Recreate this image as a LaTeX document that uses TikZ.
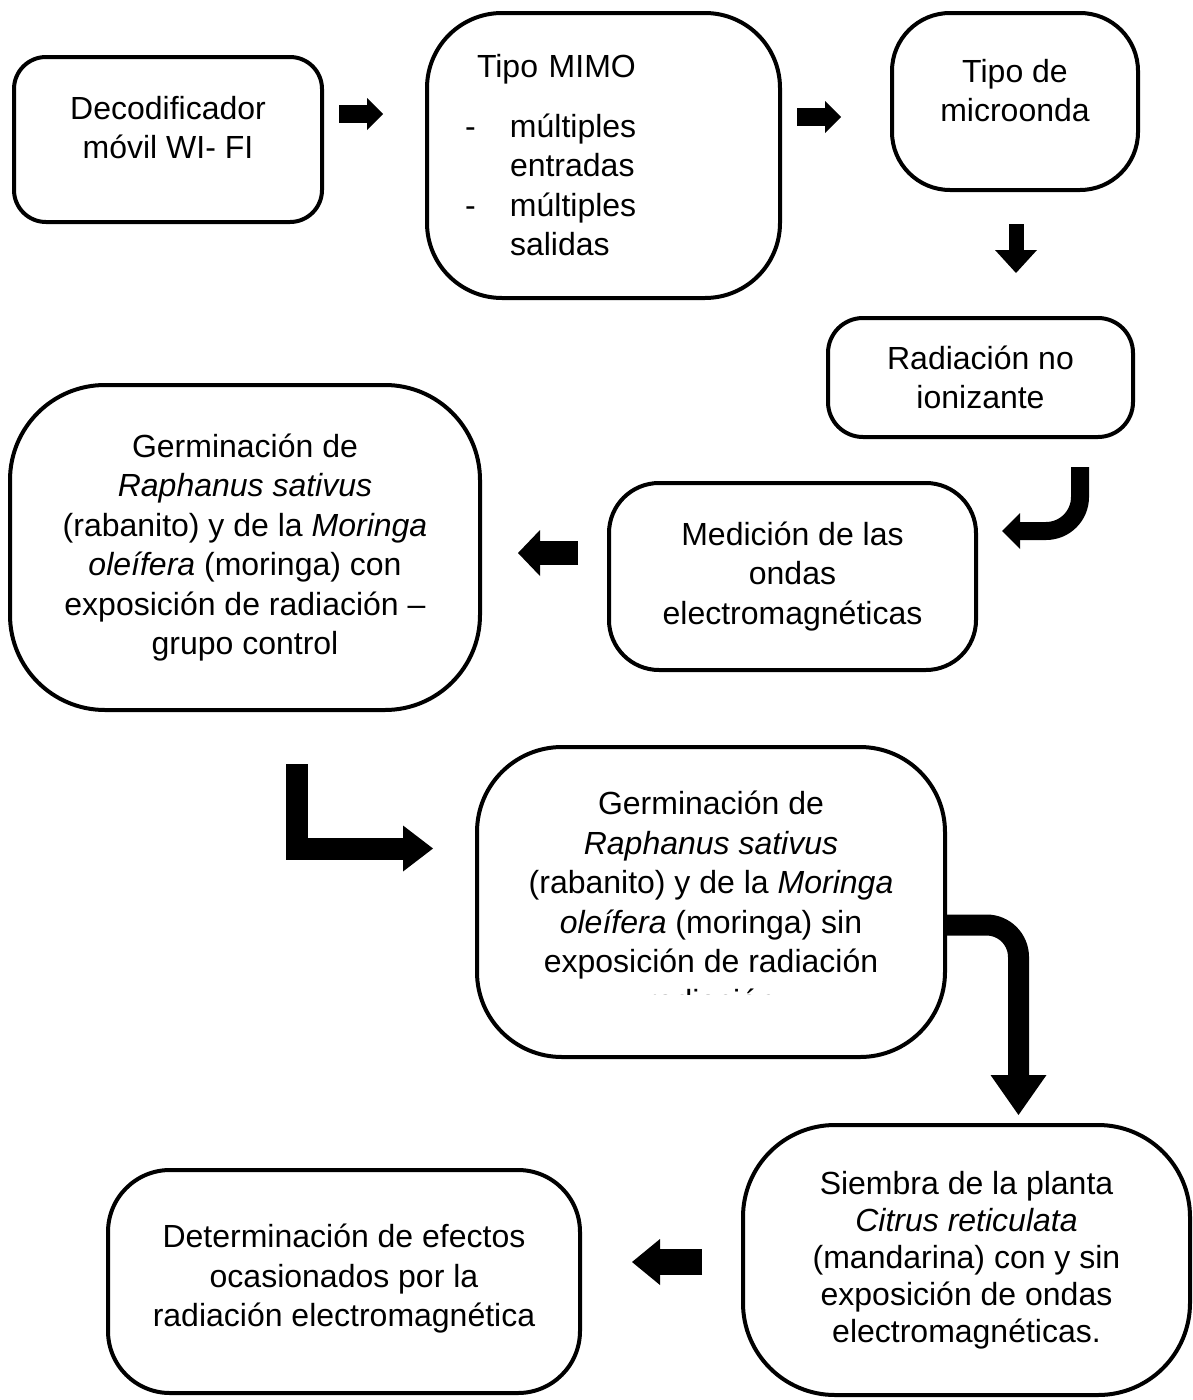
\documentclass[tikz,border=0pt]{standalone}
\usepackage{fontspec}
\setmainfont{Liberation Sans}
\usetikzlibrary{arrows.meta}

\tikzset{
  flowbox/.style={draw, line width=4pt, rounded corners=#1, align=center, inner sep=0pt,
    font=\fontsize{32}{39.5}\selectfont},
  blockarrow/.style={line width=18pt, -{Triangle[length=16pt,width=32pt,line width=0pt]}},
}

\begin{document}
\begin{tikzpicture}[x=1pt, y=-1pt]
\useasboundingbox (0,0) rectangle (1192,1400);

\node[flowbox=32pt, minimum width=308pt, minimum height=165pt] (deco) at (168,139.5) {Decodificador\\móvil WI- FI\\[-15.5pt]\mbox{}};
\node[flowbox=75pt, minimum width=353pt, minimum height=285pt, text width=277pt, align=left] (mimo) at (603.5,155.5)
  {\hspace*{12pt}Tipo MIMO\\[20pt]
   \makebox[45pt][l]{-}múltiples\\
   \hspace*{45pt}entradas\\
   \makebox[45pt][l]{-}múltiples\\
   \hspace*{45pt}salidas};
\node[flowbox=58pt, minimum width=246pt, minimum height=177pt] (micro) at (1015,101.5) {Tipo de\\microonda\\[-17.5pt]\mbox{}};
\node[flowbox=35pt, minimum width=305pt, minimum height=119pt] (radia) at (980.5,377.5) {Radiación no\\ionizante};

\node[flowbox=95pt, minimum width=470pt, minimum height=325pt] (germcon) at (245,547.5)
  {Germinación de\\\textit{Raphanus sativus}\\(rabanito) y de la \textit{Moringa}\\\textit{oleífera} (moringa) con\\exposición de radiación –\\grupo control};
\node[flowbox=50pt, minimum width=367pt, minimum height=187pt] (medic) at (792.5,576.5) {Medición de las\\ondas\\electromagnéticas};

\node[flowbox=85pt, minimum width=468pt, minimum height=310pt] (germsin) at (711,902)
  {Germinación de\\\textit{Raphanus sativus}\\(rabanito) y de la \textit{Moringa}\\\textit{oleífera} (moringa) sin\\exposición de radiación\\radiación};
% last line is cut off in the original
\fill[white] (600,995) rectangle (822,1025);

\node[flowbox=92pt, minimum width=447pt, minimum height=270pt, font=\fontsize{32}{37}\selectfont] (siembra) at (966.5,1260)
  {Siembra de la planta\\\textit{Citrus reticulata}\\(mandarina) con y sin\\exposición de ondas\\electromagnéticas.};
\node[flowbox=62pt, minimum width=472pt, minimum height=223pt] (efectos) at (344,1281.5)
  {Determinación de efectos\\ocasionados por la\\radiación electromagnética\\[-27pt]\mbox{}};

% block arrows
\draw[blockarrow] ([xshift=15pt,yshift=25.5pt]deco.east) -- ([xshift=-42pt,yshift=41.5pt]mimo.west);
\draw[blockarrow] ([xshift=15pt,yshift=38.5pt]mimo.east) -- ([xshift=-49pt,yshift=-15.5pt]micro.west);
\draw[blockarrow, line width=15pt, -{Triangle[length=23pt,width=42pt,line width=0pt]}]
  ([xshift=1pt,yshift=-32pt]micro.south) -- ([xshift=35.5pt,yshift=43pt]radia.north);
\draw[blockarrow, -{Triangle[length=18pt,width=36pt,line width=0pt]}, rounded corners=34pt]
  ([xshift=99.5pt,yshift=-28pt]radia.south) |- ([xshift=24pt,yshift=45.5pt]medic.east);
\draw[blockarrow, line width=24pt, -{Triangle[length=22pt,width=46pt,line width=0pt]}]
  ([xshift=-29pt,yshift=23.5pt]medic.west) -- ([xshift=36pt,yshift=-5.5pt]germcon.east);
\draw[blockarrow, line width=22pt, -{Triangle[length=30pt,width=46pt,line width=0pt]}]
  ([xshift=52pt,yshift=-52pt]germcon.south) |- ([xshift=-42pt,yshift=53.5pt]germsin.west);
\draw[blockarrow, line width=21pt, -{Triangle[length=40pt,width=56pt,line width=0pt]}, rounded corners=32pt]
  ([yshift=-23pt]germsin.east) -| ([xshift=52pt,yshift=8pt]siembra.north);
\draw[blockarrow, line width=26pt, -{Triangle[length=28pt,width=46pt,line width=0pt]}]
  ([xshift=-39pt,yshift=-2pt]siembra.west) -- ([xshift=50pt,yshift=19.5pt]efectos.east);
\end{tikzpicture}
\end{document}
